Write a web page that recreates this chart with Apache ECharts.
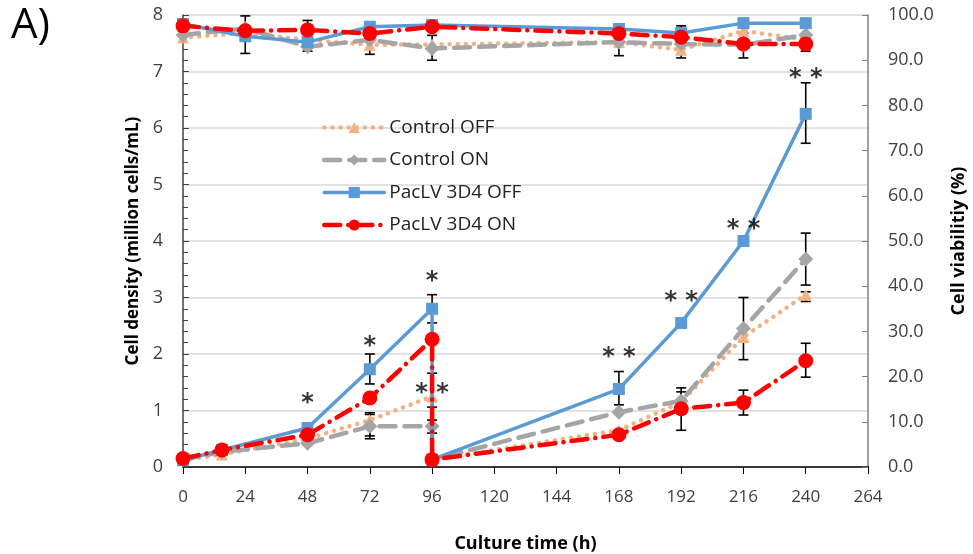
<!DOCTYPE html>
<html>
<head>
<meta charset="utf-8">
<script src="https://cdn.jsdelivr.net/npm/echarts@6/dist/echarts.min.js"></script>
<style>
  html, body { margin: 0; padding: 0; background: #fff; }
  #chart { width: 973px; height: 554px; }
</style>
</head>
<body>
<div id="chart"></div>
<script>
// culture time (h)
var densityHours = [0, 15, 48, 72, 96, 96, 168, 192, 216, 240]
var viabilityHours = [0, 24, 48, 72, 96, 168, 192, 216, 240]
var xTicks = [0, 24, 48, 72, 96, 120, 144, 168, 192, 216, 240, 264]

var seriesNames = ['Control OFF', 'Control ON', 'PacLV 3D4 OFF', 'PacLV 3D4 ON']

// cell density (million cells/mL)
var controlOffDensity = [0.13, 0.22, 0.5, 0.83, 1.25, 0.13, 0.65, 1.15, 2.3, 3.05]
var controlOnDensity = [0.13, 0.27, 0.42, 0.72, 0.72, 0.13, 0.97, 1.17, 2.45, 3.68]
var pacOffDensity = [0.12, 0.3, 0.69, 1.73, 2.8, 0.13, 1.38, 2.55, 4.0, 6.25]
var pacOnDensity = [0.15, 0.3, 0.57, 1.22, 2.26, 0.13, 0.57, 1.03, 1.14, 1.88]

// cell viability (%)
var controlOffViab = [95, 96, 94.5, 93.4, 93.5, 94, 92.3, 96.5, 94.5]
var controlOnViab = [95.6, 97, 93, 94.5, 92.6, 94, 93.6, 93.4, 95.6]
var pacOffViab = [98, 95.3, 94, 97.4, 97.8, 96.9, 96, 98.2, 98.2]
var pacOnViab = [97.6, 96.5, 96.7, 95.9, 97.4, 95.9, 95.1, 93.6, 93.6]

// error bars [hour, low, high]
var densityErrors = [
  [72, 1.47, 2.0], [96, 2.55, 3.05], [168, 1.1, 1.69], [192, 2.47, 2.63], [216, 3.95, 4.05], [240, 5.73, 6.8],
  [72, 0.5, 0.93], [96, 0.6, 1.06], [192, 0.94, 1.4], [216, 1.9, 3.0], [240, 3.22, 4.14],
  [72, 0.55, 0.96], [96, 0.83, 1.66], [240, 2.93, 3.1],
  [192, 0.65, 1.33], [216, 0.92, 1.36], [240, 1.59, 2.19]
]
var viabilityErrors = [
  [24, 91.5, 99.8], [48, 92, 98.8], [72, 91.3, 97], [96, 90, 95.5],
  [168, 91, 97], [192, 90.5, 97.6], [216, 90.5, 96], [240, 92, 95]
]

// significance marks [hour, density, text]
var starMarks = [
  [48, 1.24, '*'], [72, 2.25, '*'], [96, 3.4, '*'], [96, 1.42, '* *'],
  [168, 2.05, '* *'], [192, 3.04, '* *'], [216, 4.33, '* *'], [240, 7.0, '* *']
]

var colors = ['#F4B183', '#A5A5A5', '#5B9BD5', '#FF0000']
var symbols = ['triangle', 'diamond', 'rect', 'circle']
var symbolSizes = [12, 15, 12, 15]
var lineTypes = [[0.1, 8], [16, 9], 'solid', [16, 8, 0.1, 8]]
var lineWidths = [4.5, 4.5, 3.5, 4.5]

function zip (xs, ys) {
  return xs.map(function (x, i) { return [x, ys[i]] })
}

function errorBar (params, api) {
  var x = api.value(0)
  var lo = api.coord([x, api.value(1)])
  var hi = api.coord([x, api.value(2)])
  var w = 5
  var st = { stroke: '#000', lineWidth: 1.6 }
  return {
    type: 'group',
    children: [
      { type: 'line', shape: { x1: lo[0], y1: lo[1], x2: hi[0], y2: hi[1] }, style: st },
      { type: 'line', shape: { x1: lo[0] - w, y1: lo[1], x2: lo[0] + w, y2: lo[1] }, style: st },
      { type: 'line', shape: { x1: hi[0] - w, y1: hi[1], x2: hi[0] + w, y2: hi[1] }, style: st }
    ]
  }
}

var densitySets = [controlOffDensity, controlOnDensity, pacOffDensity, pacOnDensity]
var viabSets = [controlOffViab, controlOnViab, pacOffViab, pacOnViab]

var series = [
  { type: 'custom', renderItem: errorBar, data: densityErrors, yAxisIndex: 0, z: 1, encode: { x: 0, y: [1, 2] }, silent: true },
  { type: 'custom', renderItem: errorBar, data: viabilityErrors, yAxisIndex: 1, z: 1, encode: { x: 0, y: [1, 2] }, silent: true }
]

seriesNames.forEach(function (name, i) {
  var common = {
    name: name,
    type: 'line',
    symbol: symbols[i],
    symbolSize: symbolSizes[i],
    showAllSymbol: true,
    itemStyle: { color: colors[i] },
    lineStyle: { color: colors[i], width: lineWidths[i], type: lineTypes[i], cap: 'round' },
    z: 2 + i,
    animation: false
  }
  series.push(Object.assign({}, common, { yAxisIndex: 0, data: zip(densityHours, densitySets[i]) }))
  series.push(Object.assign({}, common, { yAxisIndex: 1, data: zip(viabilityHours, viabSets[i]) }))
})

series.push({
  type: 'scatter',
  symbolSize: 0,
  yAxisIndex: 0,
  z: 10,
  silent: true,
  data: starMarks.map(function (m) { return { value: [m[0], m[1]], name: m[2] } }),
  label: {
    show: true,
    position: 'inside',
    formatter: function (p) { return p.name },
    fontSize: 24,
    fontWeight: 'bold',
    fontFamily: 'DejaVu Sans',
    color: '#000',
    offset: [0, 7]
  }
})

var chart = echarts.init(document.getElementById('chart'))
chart.setOption({
  animation: false,
  textStyle: { fontFamily: 'Open Sans' },
  title: {
    text: 'A)',
    left: 6,
    top: 0,
    textStyle: { fontSize: 42, fontWeight: 'normal', color: '#000', fontFamily: 'Open Sans' }
  },
  legend: {
    data: seriesNames,
    orient: 'vertical',
    left: 317,
    top: 113,
    itemGap: 13.5,
    itemWidth: 60,
    itemHeight: 14,
    lineStyle: { width: 'inherit' },
    textStyle: { fontSize: 19, color: '#222' }
  },
  grid: { left: 183, right: 105, top: 15, bottom: 87, outerBoundsMode: 'none' },
  xAxis: {
    type: 'value',
    min: 0,
    max: 264,
    interval: 24,
    name: 'Culture time (h)',
    nameLocation: 'middle',
    nameGap: 68,
    nameTextStyle: { fontSize: 18, fontWeight: 'bold', color: '#000' },
    axisLine: { lineStyle: { color: '#000', width: 1.5 } },
    axisTick: { show: true, length: 7, lineStyle: { color: '#000' } },
    axisLabel: { fontSize: 17, color: '#404040', margin: 22, formatter: function (v) { return xTicks.indexOf(v) >= 0 ? v : '' } },
    splitLine: { show: false }
  },
  yAxis: [{
    type: 'value',
    min: 0,
    max: 8,
    interval: 1,
    name: 'Cell density (million cells/mL)',
    nameLocation: 'middle',
    nameGap: 34,
    nameTextStyle: { fontSize: 17, fontWeight: 'bold', color: '#000' },
    axisLine: { show: true, lineStyle: { color: '#404040', width: 1.5 } },
    axisTick: { show: true, inside: true, length: 6, lineStyle: { color: '#404040' } },
    minorTick: { show: true, splitNumber: 5, length: 5, lineStyle: { color: '#404040' } },
    axisLabel: { fontSize: 18, color: '#404040', margin: 20 },
    splitLine: { lineStyle: { color: '#D9D9D9', width: 1.5 } }
  }, {
    type: 'value',
    min: 0,
    max: 100,
    interval: 10,
    name: 'Cell viabilitiy (%)',
    nameLocation: 'middle',
    nameGap: 82,
    nameRotate: 90,
    nameTextStyle: { fontSize: 18, fontWeight: 'bold', color: '#000' },
    axisLine: { show: true, lineStyle: { color: '#808080', width: 1.5 } },
    axisTick: { show: true, inside: true, length: 6, lineStyle: { color: '#808080' } },
    axisLabel: { fontSize: 18, color: '#404040', margin: 20, formatter: function (v) { return v.toFixed(1) } },
    splitLine: { show: false }
  }],
  series: series
})
</script>
</body>
</html>
